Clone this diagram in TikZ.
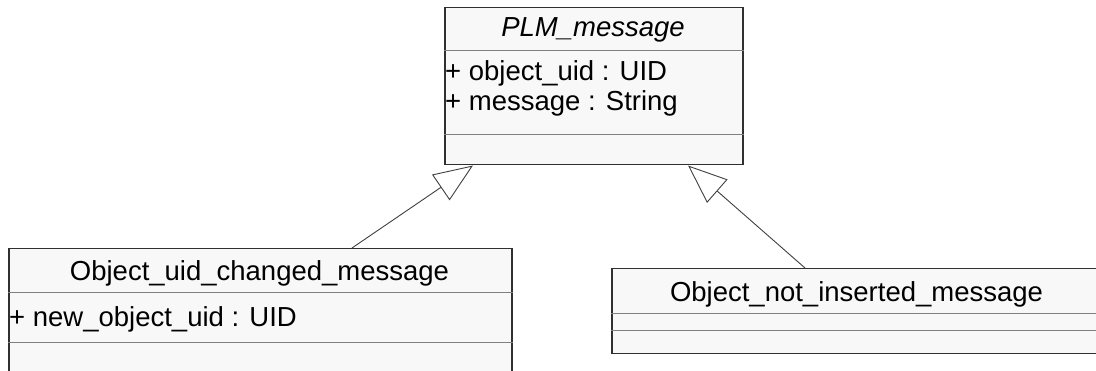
\documentclass[tikz,border=0pt]{standalone}
\usepackage{fontspec}
\setmainfont{Liberation Sans}
\usetikzlibrary{arrows.meta,calc}
\definecolor{boxborder}{RGB}{48,48,48}
\definecolor{boxfill}{RGB}{248,248,248}
\definecolor{sepgray}{RGB}{128,128,128}
\definecolor{linegray}{RGB}{64,64,64}
\begin{document}
\begin{tikzpicture}[x=1pt,y=-1pt,
  classbox/.style={draw=boxborder, fill=boxfill, line width=1.5pt, inner sep=0pt, anchor=north west, rectangle},
  sepline/.style={draw=sepgray, line width=1pt},
  ttl/.style={font=\fontsize{27.5}{30}\selectfont, anchor=base, inner sep=0pt},
  attr/.style={font=\fontsize{27.5}{30}\selectfont, anchor=base west, inner sep=0pt},
  inherit/.style={draw=linegray, line width=0.9pt, -{Triangle[length=39pt, width=31pt, fill=white]}}]
\clip (0,0) rectangle (1096,371);
\fill[white] (0,0) rectangle (1096,371);

% PLM_message
\node[classbox, minimum width=298pt, minimum height=157pt] (plm) at (444,7) {};
\draw[sepline] ($(plm.north west)+(0,44)$) -- ($(plm.north east)+(0,44)$);
\draw[sepline] ($(plm.north west)+(0,128)$) -- ($(plm.north east)+(0,128)$);
\node[ttl] (plmt) at (593,37) {\itshape PLM\_message};
\node[attr] (plma1) at (445,81) {+ object\_uid : UID};
\node[attr] (plma2) at (445,111) {+ message : String};

% Object_uid_changed_message
\node[classbox, minimum width=503pt, minimum height=140pt] (sub1) at (8,248) {};
\draw[sepline] ($(sub1.north west)+(0,45)$) -- ($(sub1.north east)+(0,45)$);
\draw[sepline] ($(sub1.north west)+(0,95)$) -- ($(sub1.north east)+(0,95)$);
\node[ttl] (sub1t) at (259.5,281) {Object\_uid\_changed\_message};
\node[attr] (sub1a1) at (9,327) {+ new\_object\_uid : UID};

% Object_not_inserted_message
\node[classbox, minimum width=491pt, minimum height=85pt] (sub2) at (611,268) {};
\draw[sepline] ($(sub2.north west)+(0,46)$) -- ($(sub2.north east)+(0,46)$);
\draw[sepline] ($(sub2.north west)+(0,63)$) -- ($(sub2.north east)+(0,63)$);
\node[ttl] (sub2t) at (856.5,302) {Object\_not\_inserted\_message};

% generalizations
\draw[inherit] ($(sub1.north west)+(344,0)$) -- ($(plm.south west)+(29,0)$);
\draw[inherit] ($(sub2.north west)+(194,0)$) -- ($(plm.south west)+(244,0)$);
\end{tikzpicture}
\end{document}
